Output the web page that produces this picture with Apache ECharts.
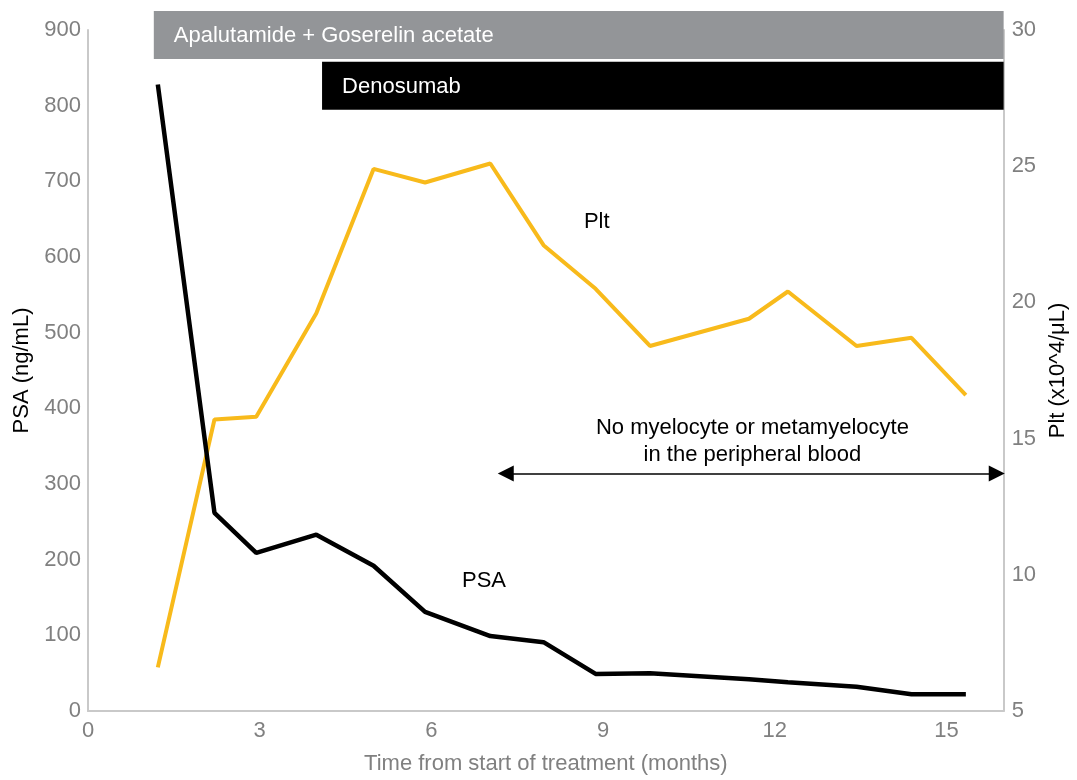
<!DOCTYPE html>
<html>
<head>
<meta charset="utf-8">
<title>PSA and platelet count during treatment</title>
<script src="https://cdn.jsdelivr.net/npm/echarts@6/dist/echarts.min.js"></script>
<style>
  html, body { margin: 0; padding: 0; background: #ffffff; overflow: hidden; }
  #chart { width: 1077px; height: 780px; }
</style>
</head>
<body>
<div id="chart"></div>
<script>
// Time points (months from start of treatment)
const months = [1.22, 2.21, 2.94, 3.99, 4.99, 5.89, 7.03, 7.96, 8.87, 9.82, 11.55, 12.23, 13.43, 14.39, 15.34];
// PSA (ng/mL)
const psa = [828, 262, 209, 233, 192, 131, 99, 91, 49, 50, 42, 38, 32, 22, 22];
// Platelet count (x10^4/uL)
const plt = [6.6, 15.7, 15.8, 19.6, 24.9, 24.4, 25.1, 22.1, 20.5, 18.4, 19.4, 20.4, 18.4, 18.7, 16.6];

// Treatment periods drawn as bands above the curves
const treatmentNames = ['Apalutamide + Goserelin acetate', 'Denosumab'];
const treatmentStart = [1.15, 4.09];
const treatmentEnd = [16, 16];
const treatmentColors = ['#939598', '#000000'];

// Period without immature granulocytes in peripheral blood
const noBlastStart = 7.30;
const noBlastEnd = 15.88;
const noBlastText = 'No myelocyte or metamyelocyte\nin the peripheral blood';

const xTicks = [0, 3, 6, 9, 12, 15];

const FONT = '"Liberation Sans", Arial, Helvetica, sans-serif';
const GRAY = '#808080';
const AXIS_LINE = '#c9c9c9';
const FS = 22;

const psaData = months.map((m, i) => [m, psa[i]]);
const pltData = months.map((m, i) => [m, plt[i]]);
const treatmentData = treatmentNames.map((n, i) => [treatmentStart[i], treatmentEnd[i], i]);

const chart = echarts.init(document.getElementById('chart'), null, { renderer: 'canvas', width: 1077, height: 780 });

const option = {
  backgroundColor: '#ffffff',
  animation: false,
  textStyle: { fontFamily: FONT },
  grid: { left: 88, right: 65, top: 30, bottom: 65, containLabel: false },
  xAxis: {
    type: 'value',
    min: 0,
    max: 16,
    interval: 3,
    name: 'Time from start of treatment (months)',
    nameLocation: 'middle',
    nameGap: 42,
    nameTextStyle: { color: GRAY, fontSize: FS, fontFamily: FONT },
    axisLine: { show: true, lineStyle: { color: AXIS_LINE, width: 2 } },
    axisTick: { show: false },
    splitLine: { show: false },
    axisLabel: {
      color: GRAY, fontSize: FS, fontFamily: FONT, margin: 9,
      showMaxLabel: false,
      formatter: v => (xTicks.indexOf(v) >= 0 ? String(v) : '')
    }
  },
  yAxis: [
    {
      type: 'value',
      min: 0,
      max: 900,
      interval: 100,
      position: 'left',
      name: 'PSA (ng/mL)',
      nameLocation: 'middle',
      nameRotate: 90,
      nameGap: 55,
      nameTextStyle: { color: '#000000', fontSize: FS, fontFamily: FONT },
      axisLine: { show: true, lineStyle: { color: AXIS_LINE, width: 2 } },
      axisTick: { show: false },
      splitLine: { show: false },
      axisLabel: { color: GRAY, fontSize: FS, fontFamily: FONT, margin: 7 }
    },
    {
      type: 'value',
      min: 5,
      max: 30,
      interval: 5,
      position: 'right',
      name: 'Plt (x10^4/μL)',
      nameLocation: 'middle',
      nameRotate: 90,
      nameGap: 42,
      nameTextStyle: { color: '#000000', fontSize: FS, fontFamily: FONT },
      axisLine: { show: true, lineStyle: { color: AXIS_LINE, width: 2 } },
      axisTick: { show: false },
      splitLine: { show: false },
      axisLabel: { color: GRAY, fontSize: FS, fontFamily: FONT, margin: 8 }
    }
  ],
  series: [
    {
      name: 'Plt',
      type: 'line',
      yAxisIndex: 1,
      data: pltData,
      symbol: 'none',
      lineStyle: { color: '#F8BA1B', width: 4 },
      itemStyle: { color: '#F8BA1B' },
      z: 3,
      markPoint: {
        silent: true,
        symbol: 'circle',
        symbolSize: 1,
        itemStyle: { color: 'rgba(0,0,0,0)' },
        label: { show: true, position: 'inside', color: '#000000', fontSize: FS, fontFamily: FONT },
        data: [{ coord: [8.89, 22.97], value: 'Plt', label: { formatter: 'Plt' } }]
      }
    },
    {
      name: 'PSA',
      type: 'line',
      yAxisIndex: 0,
      data: psaData,
      symbol: 'none',
      lineStyle: { color: '#000000', width: 4.5 },
      itemStyle: { color: '#000000' },
      z: 4,
      markPoint: {
        silent: true,
        symbol: 'circle',
        symbolSize: 1,
        itemStyle: { color: 'rgba(0,0,0,0)' },
        label: { show: true, position: 'inside', color: '#000000', fontSize: FS, fontFamily: FONT, lineHeight: 27, align: 'center' },
        data: [
          { coord: [6.92, 172], value: 'PSA', label: { formatter: 'PSA' } },
          { coord: [11.61, 356], value: 'note', label: { formatter: noBlastText } }
        ]
      },
      markLine: {
        silent: true,
        symbol: ['triangle', 'triangle'],
        symbolSize: [16, 16],
        label: { show: false },
        lineStyle: { color: '#000000', width: 1.6, type: 'solid' },
        emphasis: { disabled: true },
        data: [[{ coord: [noBlastStart, 314] }, { coord: [noBlastEnd, 314] }]]
      }
    },
    {
      name: 'Treatment',
      type: 'custom',
      xAxisIndex: 0,
      yAxisIndex: 0,
      clip: false,
      silent: true,
      z: 5,
      data: treatmentData,
      encode: { x: [0, 1] },
      renderItem: function (params, api) {
        const idx = api.value(2);
        const p0 = api.coord([api.value(0), 900]);
        const p1 = api.coord([api.value(1), 900]);
        const rowTop = p0[1] - 19 + idx * 50.7;
        const rowH = 48;
        return {
          type: 'group',
          children: [
            {
              type: 'rect',
              shape: { x: p0[0], y: rowTop, width: p1[0] - p0[0], height: rowH },
              style: { fill: treatmentColors[idx] }
            },
            {
              type: 'text',
              x: p0[0] + 20,
              y: rowTop + rowH / 2 + 1,
              style: {
                text: treatmentNames[idx],
                fill: '#ffffff',
                font: FS + 'px ' + FONT,
                textAlign: 'left',
                textVerticalAlign: 'middle'
              }
            }
          ]
        };
      }
    }
  ]
};

chart.setOption(option);
</script>
</body>
</html>
